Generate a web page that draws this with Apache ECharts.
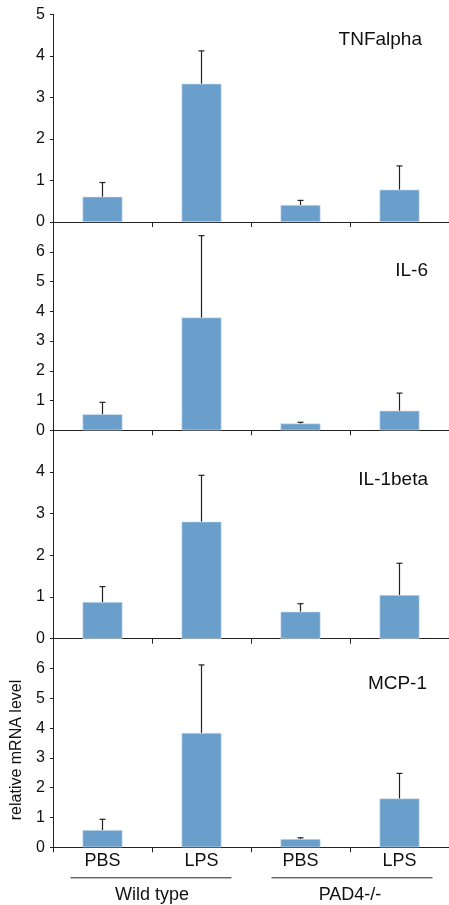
<!DOCTYPE html>
<html><head><meta charset="utf-8">
<script src="https://cdn.jsdelivr.net/npm/echarts@6/dist/echarts.min.js"></script>
<style>html,body{margin:0;padding:0;background:#fff}#c{width:449px;height:905px}</style>
</head><body><div id="c"></div>
<script>
const categories = ['PBS', 'LPS', 'PBS', 'LPS'];
const groups = ['Wild type', 'PAD4-/-'];
const panelNames = ['TNFalpha', 'IL-6', 'IL-1beta', 'MCP-1'];
const tnfMean = [0.61, 3.33, 0.41, 0.78];
const tnfSD = [0.34, 0.79, 0.11, 0.57];
const il6Mean = [0.54, 3.79, 0.23, 0.66];
const il6SD = [0.40, 2.75, 0.04, 0.59];
const il1bMean = [0.88, 2.81, 0.65, 1.05];
const il1bSD = [0.37, 1.11, 0.19, 0.76];
const mcp1Mean = [0.58, 3.84, 0.28, 1.64];
const mcp1SD = [0.36, 2.28, 0.04, 0.84];
const yMax = [5, 7, 5, 7];
const yAxisName = 'relative mRNA level';

const means = [tnfMean, il6Mean, il1bMean, mcp1Mean];
const sds = [tnfSD, il6SD, il1bSD, mcp1SD];
const FONT = 'Liberation Sans, Arial, sans-serif';
const panelTop = [14.3, 222, 430.3, 638.7];
const panelBottom = [222, 430.3, 638.7, 847.3];
const barColor = '#6b9fcb';

const chart = echarts.init(document.getElementById('c'), null, {renderer: 'canvas'});
const grids = [], xAxes = [], yAxes = [], series = [];
for (let i = 0; i < 4; i++) {
  const mx = yMax[i];
  grids.push({left: 53, width: 396, top: panelTop[i], height: panelBottom[i] - panelTop[i]});
  xAxes.push({
    type: 'category', gridIndex: i, data: categories,
    axisLine: {show: true, lineStyle: {color: '#222', width: 1}},
    axisTick: {show: true, length: 5, lineStyle: {color: '#222'}},
    axisLabel: {show: i === 3, margin: 5, fontSize: 18, color: '#111', fontFamily: FONT}
  });
  yAxes.push({
    type: 'value', gridIndex: i, min: 0, max: mx, interval: 1,
    name: i === 3 ? yAxisName : '', nameLocation: 'middle', nameGap: 28, nameRotate: 90,
    nameTextStyle: {fontSize: 16, color: '#111', fontFamily: FONT, padding: [0, 14, 0, 0]},
    splitLine: {show: false},
    axisLine: {show: true, lineStyle: {color: '#222', width: 1}},
    axisTick: {show: true, length: 3, lineStyle: {color: '#222'}},
    axisLabel: {
      margin: 8, fontSize: 16, color: '#111', fontFamily: FONT,
      formatter: (v) => (i > 0 && v === mx) ? '' : String(v)
    }
  });
  series.push({
    type: 'bar', xAxisIndex: i, yAxisIndex: i, data: means[i], barWidth: 40,
    itemStyle: {color: barColor, borderColor: '#d6e4f2', borderWidth: 0.6},
    silent: true, z: 2
  });
  series.push({
    type: 'custom', xAxisIndex: i, yAxisIndex: i, silent: true, z: 3,
    data: means[i].map((m, k) => [k, m, m + sds[i][k]]),
    renderItem: function (params, api) {
      const p0 = api.coord([api.value(0), api.value(1)]);
      const p1 = api.coord([api.value(0), api.value(2)]);
      const st = {stroke: '#222', lineWidth: 1.2};
      return {type: 'group', children: [
        {type: 'line', shape: {x1: p0[0], y1: p0[1], x2: p1[0], y2: p1[1]}, style: st},
        {type: 'line', shape: {x1: p1[0] - 3, y1: p1[1], x2: p1[0] + 3, y2: p1[1]}, style: st}
      ]};
    }
  });
}
// group axis (labels only)
xAxes.push({
  type: 'category', gridIndex: 3, data: groups, position: 'bottom', offset: 30,
  axisLine: {show: false}, axisTick: {show: false},
  axisLabel: {margin: 9, fontSize: 18, color: '#111', fontFamily: FONT}
});

const titleTop = [25, 256, 465, 669];
const titleRight = [22, 16, 16, 17];
const titles = panelNames.map((n, i) => ({
  text: n, right: titleRight[i], top: titleTop[i],
  textStyle: {fontSize: 19, fontWeight: 'normal', color: '#111', fontFamily: FONT}
}));

chart.setOption({
  animation: false,
  title: titles,
  grid: grids, xAxis: xAxes, yAxis: yAxes, series: series
});

// group underlines computed from the bottom axis scale
const xa = chart.convertToPixel({xAxisIndex: 3}, 0);
const xb = chart.convertToPixel({xAxisIndex: 3}, 1);
const xc = chart.convertToPixel({xAxisIndex: 3}, 2);
const xd = chart.convertToPixel({xAxisIndex: 3}, 3);
const yBase = chart.convertToPixel({yAxisIndex: 3}, 0);
const ly = yBase + 30.5;
chart.setOption({graphic: [
  {type: 'line', shape: {x1: xa - 32, y1: ly, x2: xb + 30, y2: ly}, style: {stroke: '#222', lineWidth: 1}},
  {type: 'line', shape: {x1: xc - 29, y1: ly, x2: xd + 33, y2: ly}, style: {stroke: '#222', lineWidth: 1}}
]});
</script></body></html>
